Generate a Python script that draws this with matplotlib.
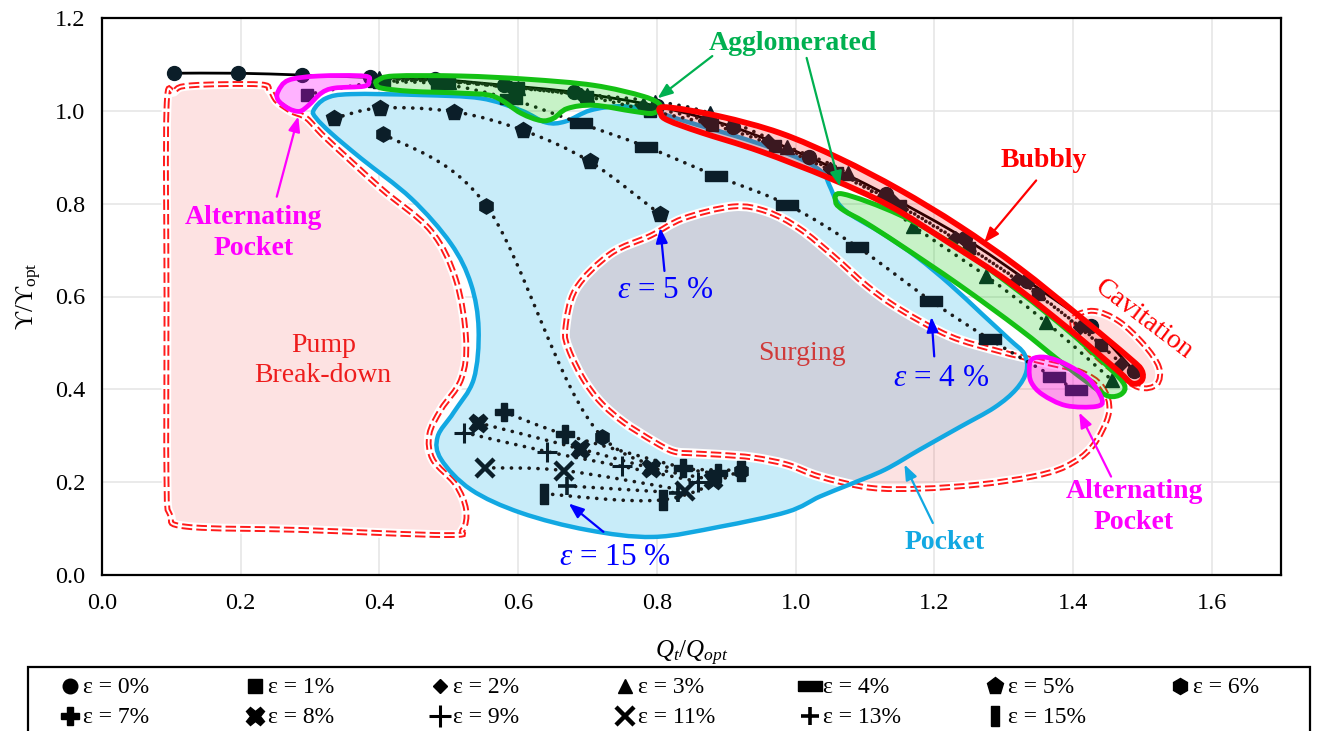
import numpy as np
import matplotlib.pyplot as plt
from matplotlib.path import Path
from matplotlib.patches import PathPatch, Rectangle
from matplotlib.lines import Line2D

plt.rcParams['font.family'] = ['Liberation Serif', 'DejaVu Serif']
plt.rcParams['mathtext.fontset'] = 'custom'
plt.rcParams['mathtext.rm'] = 'Liberation Serif'
plt.rcParams['mathtext.it'] = 'Liberation Serif:italic'
plt.rcParams['mathtext.bf'] = 'Liberation Serif:bold'

# ---- data: Qt/Qopt (x) and Y/Yopt (y) for each gas fraction ----
x_e0 = [0.104, 0.196, 0.289, 0.387, 0.48, 0.58, 0.68, 0.80, 0.91, 1.02, 1.13, 1.244, 1.334, 1.426, 1.488]
y_e0 = [1.081, 1.081, 1.077, 1.072, 1.068, 1.055, 1.04, 1.01, 0.965, 0.90, 0.82, 0.725, 0.634, 0.536, 0.44]
x_e1 = [0.295, 0.40, 0.50, 0.60, 0.70, 0.79, 0.88, 0.97, 1.06, 1.15, 1.25, 1.35, 1.44]
y_e1 = [1.035, 1.062, 1.064, 1.05, 1.03, 1.0, 0.97, 0.925, 0.865, 0.795, 0.705, 0.605, 0.495]
x_e2 = [0.39, 0.49, 0.59, 0.69, 0.78, 0.87, 0.96, 1.05, 1.14, 1.23, 1.32, 1.41, 1.47]
y_e2 = [1.07, 1.065, 1.05, 1.035, 1.01, 0.98, 0.935, 0.875, 0.805, 0.725, 0.635, 0.535, 0.455]
x_e3 = [0.40, 0.50, 0.60, 0.70, 0.798, 0.876, 0.988, 1.075, 1.17, 1.275, 1.361, 1.456]
y_e3 = [1.07, 1.062, 1.05, 1.035, 1.02, 0.995, 0.923, 0.865, 0.752, 0.644, 0.545, 0.42]
x_e4 = [0.40, 0.49, 0.59, 0.69, 0.784, 0.885, 0.988, 1.089, 1.196, 1.28, 1.373, 1.405]
y_e4 = [1.062, 1.058, 1.025, 0.973, 0.923, 0.86, 0.798, 0.707, 0.59, 0.508, 0.426, 0.398]
x_e5 = [0.335, 0.401, 0.508, 0.607, 0.703, 0.804]
y_e5 = [0.984, 1.006, 0.998, 0.958, 0.891, 0.778]
x_e6 = [0.405, 0.554, 0.721, 0.921]
y_e6 = [0.951, 0.796, 0.298, 0.223]
x_e7 = [0.579, 0.667, 0.838, 0.888]
y_e7 = [0.352, 0.303, 0.231, 0.22]
x_e8 = [0.542, 0.689, 0.791, 0.881]
y_e8 = [0.328, 0.272, 0.231, 0.205]
x_e9 = [0.522, 0.641, 0.750, 0.86]
y_e9 = [0.307, 0.266, 0.234, 0.201]
x_e11 = [0.552, 0.666, 0.841]
y_e11 = [0.231, 0.225, 0.182]
x_e13 = [0.670, 0.831]
y_e13 = [0.192, 0.177]
x_e15 = [0.637, 0.809, 0.921]
y_e15 = [0.175, 0.162, 0.225]

labels = ['ε = 0%', 'ε = 1%', 'ε = 2%', 'ε = 3%', 'ε = 4%', 'ε = 5%', 'ε = 6%',
          'ε = 7%', 'ε = 8%', 'ε = 9%', 'ε = 11%', 'ε = 13%', 'ε = 15%']

# ---- flow regime outlines (data coords) ----
pump_x = [0.093, 0.104, 0.129, 0.227, 0.242, 0.252, 0.273, 0.295, 0.323, 0.403, 0.474, 0.510, 0.525, 0.518,
          0.489, 0.472, 0.477, 0.510, 0.525, 0.520, 0.496, 0.288, 0.122, 0.098, 0.093, 0.093]
pump_y = [1.005, 1.042, 1.055, 1.057, 1.044, 1.021, 0.999, 0.984, 0.941, 0.832, 0.742, 0.638, 0.508, 0.422,
          0.357, 0.303, 0.249, 0.195, 0.141, 0.097, 0.086, 0.097, 0.104, 0.130, 0.205, 0.595]
surg_x = [0.668, 0.683, 0.733, 0.791, 0.838, 0.910, 0.959, 1.006, 1.054, 1.103, 1.150, 1.222, 1.294, 1.351,
          1.409, 1.442, 1.452, 1.428, 1.390, 1.341, 1.265, 1.179, 1.107, 1.035, 0.988, 0.939, 0.891, 0.853,
          0.824, 0.795, 0.752, 0.719, 0.694, 0.673]
surg_y = [0.530, 0.616, 0.692, 0.731, 0.768, 0.794, 0.783, 0.746, 0.688, 0.623, 0.573, 0.515, 0.482, 0.461,
          0.439, 0.406, 0.350, 0.277, 0.234, 0.212, 0.195, 0.186, 0.188, 0.212, 0.238, 0.253, 0.259, 0.262,
          0.266, 0.288, 0.329, 0.372, 0.422, 0.486]
pocket_x = [0.305, 0.323, 0.359, 0.460, 0.546, 0.604, 0.640, 0.668, 0.704, 0.748, 0.791, 0.838, 0.934, 1.006,
            1.039, 1.049, 1.060, 1.078, 1.126, 1.175, 1.222, 1.269, 1.308, 1.330, 1.333, 1.318, 1.287, 1.236,
            1.179, 1.129, 1.078, 1.035, 0.988, 0.891, 0.795, 0.700, 0.604, 0.532, 0.489, 0.484, 0.507, 0.536,
            0.543, 0.532, 0.503, 0.446, 0.374, 0.331, 0.309]
pocket_y = [1.001, 1.027, 1.036, 1.034, 1.027, 1.001, 0.975, 0.977, 1.001, 1.010, 1.001, 0.979, 0.936, 0.897,
            0.867, 0.839, 0.804, 0.778, 0.735, 0.685, 0.627, 0.562, 0.508, 0.476, 0.439, 0.400, 0.361, 0.318,
            0.270, 0.227, 0.195, 0.169, 0.136, 0.104, 0.082, 0.097, 0.134, 0.184, 0.249, 0.298, 0.350, 0.422,
            0.530, 0.627, 0.714, 0.811, 0.897, 0.951, 0.984]
agg1_x = [0.398, 0.421, 0.518, 0.614, 0.709, 0.781, 0.805, 0.795, 0.766, 0.709, 0.671, 0.651, 0.633, 0.604,
          0.565, 0.518, 0.446, 0.403, 0.395]
agg1_y = [1.066, 1.075, 1.075, 1.068, 1.055, 1.031, 1.012, 0.995, 0.999, 1.012, 1.005, 0.984, 0.979, 0.995,
          1.031, 1.038, 1.042, 1.049, 1.059]
agg2_x = [1.068, 1.150, 1.236, 1.323, 1.394, 1.452, 1.474, 1.470, 1.452, 1.430, 1.380, 1.323, 1.236, 1.150,
          1.100, 1.070, 1.058]
agg2_y = [0.821, 0.776, 0.704, 0.610, 0.525, 0.447, 0.410, 0.390, 0.385, 0.405, 0.462, 0.530, 0.625, 0.712,
          0.760, 0.785, 0.803]
bub_x = [0.812, 0.891, 0.978, 1.064, 1.150, 1.236, 1.323, 1.409, 1.481, 1.499, 1.499, 1.485, 1.464, 1.394,
         1.308, 1.222, 1.136, 1.049, 0.949, 0.863, 0.817, 0.806]
bub_y = [1.008, 0.988, 0.952, 0.897, 0.830, 0.752, 0.661, 0.558, 0.468, 0.441, 0.419, 0.413, 0.441, 0.530,
         0.631, 0.715, 0.795, 0.855, 0.913, 0.954, 0.979, 0.993]
cav_x = [1.402, 1.430, 1.466, 1.502, 1.524, 1.521, 1.495, 1.459, 1.423, 1.402]
cav_y = [0.556, 0.569, 0.547, 0.497, 0.448, 0.411, 0.404, 0.439, 0.486, 0.526]
alt1_x = [0.254, 0.269, 0.312, 0.378, 0.385, 0.378, 0.335, 0.316, 0.298, 0.285, 0.269, 0.254]
alt1_y = [1.042, 1.066, 1.075, 1.075, 1.064, 1.053, 1.049, 1.038, 1.012, 0.999, 1.005, 1.023]
alt2_x = [1.341, 1.361, 1.390, 1.423, 1.442, 1.433, 1.390, 1.356, 1.340, 1.337]
alt2_y = [0.465, 0.469, 0.454, 0.422, 0.378, 0.363, 0.365, 0.389, 0.415, 0.443]


def smooth(x, y, closed=False):
    # Excel-like smoothed line: Catmull-Rom as cubic Bezier segments
    P = np.column_stack([x, y]).astype(float)
    n = len(P)
    verts = [P[0]]
    codes = [Path.MOVETO]
    for i in range(n if closed else n - 1):
        p0 = P[(i - 1) % n] if (closed or i > 0) else P[i]
        p1 = P[i]
        p2 = P[(i + 1) % n]
        p3 = P[(i + 2) % n] if (closed or i + 2 < n) else p2
        verts += [p1 + (p2 - p0) / 6, p2 - (p3 - p1) / 6, p2]
        codes += [Path.CURVE4] * 3
    if closed:
        verts.append(P[0])
        codes.append(Path.CLOSEPOLY)
    return Path(verts, codes)


def double_dash(ax, path, z):
    ax.add_patch(PathPatch(path, fc='none', ec='white', lw=7, zorder=z))
    ax.add_patch(PathPatch(path, fc='none', ec='#ff1a1a', lw=4.2, ls=(0, (1.8, 0.7)), zorder=z))
    ax.add_patch(PathPatch(path, fc='none', ec='white', lw=1.4, zorder=z))


fig = plt.figure(figsize=(13.19, 7.31), dpi=100)
ax = fig.add_axes([102 / 1319, 1 - 575 / 731, (1281 - 102) / 1319, (575 - 18) / 731])

# regions under the data
p_pump = smooth(pump_x, pump_y, True)
p_surg = smooth(surg_x, surg_y, True)
p_pocket = smooth(pocket_x, pocket_y, True)
p_cav = smooth(cav_x, cav_y, True)
ax.add_patch(PathPatch(p_pump, fc='#fde2e2', ec='none', zorder=1))
ax.add_patch(PathPatch(p_pocket, fc='#c8ecf9', ec='none', zorder=1.1))
ax.add_patch(PathPatch(p_surg, fc=(0.93, 0.31, 0.31, 0.165), ec='none', zorder=1.2))
ax.add_patch(PathPatch(p_cav, fc=(1, 0.2, 0.2, 0.15), ec='none', zorder=1.2))
double_dash(ax, p_pump, 2)
double_dash(ax, p_surg, 2)
double_dash(ax, p_cav, 2)
ax.add_patch(PathPatch(p_pocket, fc='none', ec='#12a8e2', lw=3.2, zorder=2.5))

# series
mk = '#0b1e29'
wide = Path([(-1, -0.45), (1, -0.45), (1, 0.45), (-1, 0.45), (-1, -0.45)])
tall = Path([(-0.42, -1), (0.42, -1), (0.42, 1), (-0.42, 1), (-0.42, -1)])
series = [
    (x_e0, y_e0, 'o', 10, 1),
    (x_e1, y_e1, 's', 9, 1),
    (x_e2, y_e2, 'D', 7, 1),
    (x_e3, y_e3, '^', 10, 1),
    (x_e4, y_e4, wide, 16, 1),
    (x_e5, y_e5, 'p', 12, 1),
    (x_e6, y_e6, 'h', 11, 1),
    (x_e7, y_e7, 'P', 13, 1),
    (x_e8, y_e8, 'X', 13, 1),
    (x_e9, y_e9, '+', 15, 2.2),
    (x_e11, y_e11, 'x', 13, 3.2),
    (x_e13, y_e13, '+', 13, 2.6),
    (x_e15, y_e15, tall, 14, 1),
]
for i, (xs, ys, m, ms, mew) in enumerate(series):
    if i == 0:
        ax.add_patch(PathPatch(smooth(xs, ys), fc='none', ec='black', lw=2, zorder=3))
    else:
        ax.add_patch(PathPatch(smooth(xs, ys), fc='none', ec='#1a1a1a', lw=2.6,
                               ls=(0, (0.05, 2.4)), capstyle='round', zorder=3))
    ax.plot(xs, ys, ls='none', marker=m, ms=ms, mew=mew, color=mk, mfc=mk, mec=mk, zorder=4)

# translucent regimes on top of the data
for rx, ry, fc, ec, lw in [
    (agg1_x, agg1_y, (0.0, 0.78, 0.0, 0.22), '#14c114', 3.6),
    (agg2_x, agg2_y, (0.0, 0.78, 0.0, 0.22), '#14c114', 3.6),
    (bub_x, bub_y, (1.0, 0.0, 0.0, 0.2), '#ff0000', 4.2),
    (alt1_x, alt1_y, (1.0, 0.0, 1.0, 0.3), '#ff00ff', 3.4),
    (alt2_x, alt2_y, (1.0, 0.0, 1.0, 0.3), '#ff00ff', 3.4),
]:
    ax.add_patch(PathPatch(smooth(rx, ry, True), fc=fc, ec=ec, lw=lw, zorder=5))

# labels and arrows
def arrow(x0, y0, x1, y1, c):
    ax.annotate('', xy=(x1, y1), xytext=(x0, y0),
                arrowprops=dict(arrowstyle='-|>,head_length=0.9,head_width=0.35', color=c, lw=1.6,
                                shrinkA=0, shrinkB=0), zorder=7)

fs = 20
ax.text(0.996, 1.146, 'Agglomerated', color='#00b050', fontsize=fs, fontweight='bold', ha='center', va='center', zorder=7)
arrow(0.880, 1.118, 0.801, 1.027, '#00b050')
arrow(1.016, 1.114, 1.064, 0.837, '#00b050')
ax.text(1.358, 0.894, 'Bubbly', color='red', fontsize=fs, fontweight='bold', ha='center', va='center', zorder=7)
arrow(1.347, 0.850, 1.272, 0.716, 'red')
ax.text(1.502, 0.551, 'Cavitation', color='red', fontsize=fs, rotation=-37, ha='center', va='center', zorder=7)
ax.text(0.219, 0.737, 'Alternating\nPocket', color='#ff00ff', fontsize=fs, fontweight='bold', ha='center', va='center',
        linespacing=1.3, zorder=7)
arrow(0.252, 0.815, 0.283, 0.988, '#ff00ff')
ax.text(1.488, 0.146, 'Alternating\nPocket', color='#ff00ff', fontsize=fs, fontweight='bold', ha='center', va='center',
        linespacing=1.3, zorder=7)
arrow(1.455, 0.212, 1.409, 0.350, '#ff00ff')
ax.text(0.319, 0.462, 'Pump\nBreak-down', color='#ee1c1c', fontsize=fs, ha='center', va='center', linespacing=1.3, zorder=7)
ax.text(1.009, 0.478, 'Surging', color='#d03a3a', fontsize=fs, ha='center', va='center', zorder=7)
ax.text(1.215, 0.069, 'Pocket', color='#12a8e2', fontsize=fs, fontweight='bold', ha='center', va='center', zorder=7)
arrow(1.198, 0.112, 1.157, 0.238, '#12a8e2')
ax.text(0.812, 0.614, r'$ε$ = 5 %', color='blue', fontsize=22.5, ha='center', va='center', zorder=7)
arrow(0.811, 0.655, 0.805, 0.748, 'blue')
ax.text(1.210, 0.424, r'$ε$ = 4 %', color='blue', fontsize=22.5, ha='center', va='center', zorder=7)
arrow(1.200, 0.471, 1.196, 0.556, 'blue')
ax.text(0.740, 0.037, r'$ε$ = 15 %', color='blue', fontsize=22.5, ha='center', va='center', zorder=7)
arrow(0.723, 0.093, 0.673, 0.154, 'blue')

# axes
ax.set_xlim(0, 1.7)
ax.set_ylim(0, 1.2)
ax.set_xticks(np.arange(0, 1.61, 0.2))
ax.set_yticks(np.arange(0, 1.21, 0.2))
ax.xaxis.set_major_formatter(plt.FormatStrFormatter('%.1f'))
ax.yaxis.set_major_formatter(plt.FormatStrFormatter('%.1f'))
ax.tick_params(length=0, labelsize=17.5)
ax.tick_params(axis='x', pad=13)
ax.tick_params(axis='y', pad=12)
ax.grid(True, color='#e6e6e6', lw=1.2)
ax.set_axisbelow(True)
for s in ax.spines.values():
    s.set_linewidth(1.6)
ax.set_xlabel(r'$Q_t/Q_{opt}$', fontsize=18, labelpad=18)
ax.set_ylabel(r'$\mathrm{ϒ/ϒ_{opt}}$', fontsize=18, labelpad=8)

# legend box below the plot, filled row by row
fig.add_artist(Rectangle((28 / 1319, -0.02), 1282 / 1319, (731 - 667) / 731 + 0.02, transform=fig.transFigure,
                         fill=False, ec='black', lw=1.6))
for k, (lab, (_, _, m, ms, mew)) in enumerate(zip(labels, series)):
    row, col = divmod(k, 7)
    xm = (70 + 185 * col) / 1319
    ym = 1 - (686 + 30 * row) / 731
    fig.add_artist(Line2D([xm], [ym], transform=fig.transFigure, ls='none', marker=m, ms=ms * 1.05,
                          mew=mew, color='black'))
    fig.text(xm + 13 / 1319, ym - 0.002, lab, fontsize=17, va='center', ha='left')

fig.savefig('out.png', dpi=100)
